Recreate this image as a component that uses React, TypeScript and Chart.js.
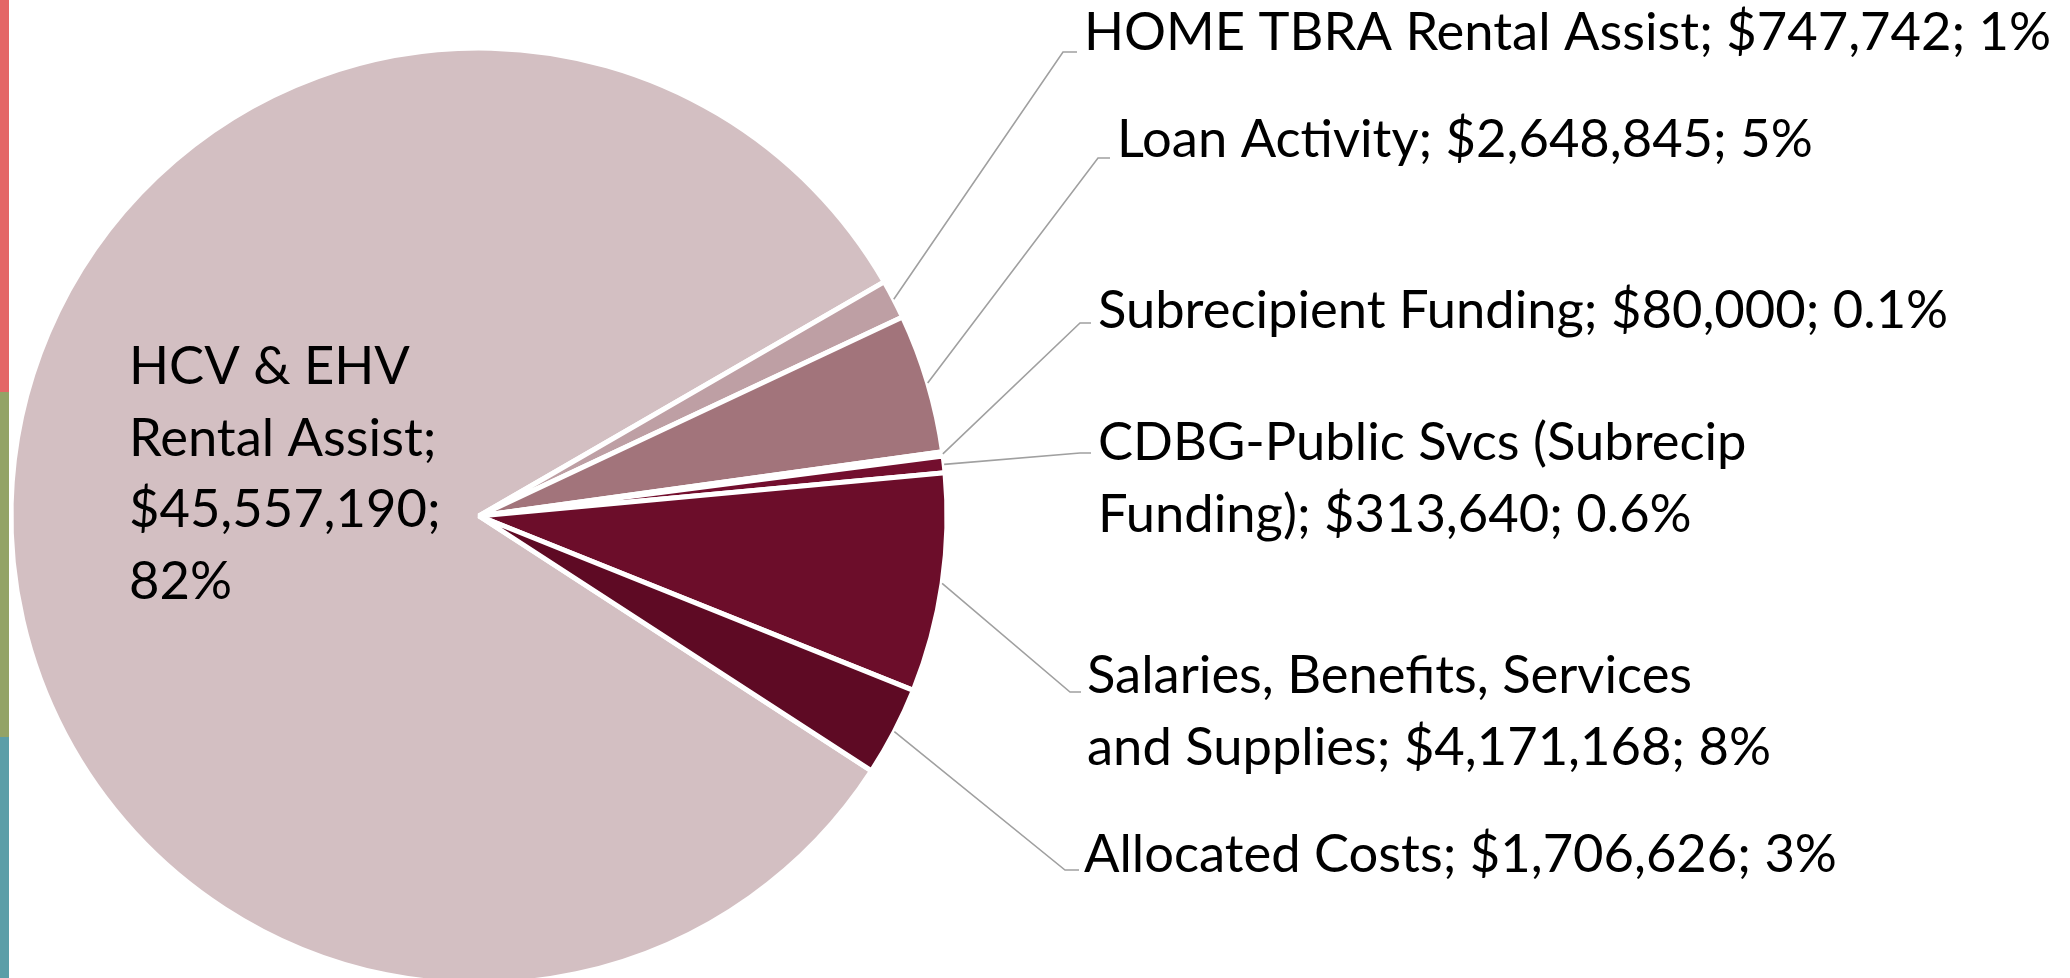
import React, { useEffect, useRef } from "react";
import { Chart, registerables } from "chart.js";

Chart.register(...registerables);

// ---------- data ----------
const categories: string[] = [
  "HCV & EHV Rental Assist",
  "HOME TBRA Rental Assist",
  "Loan Activity",
  "Subrecipient Funding",
  "CDBG-Public Svcs (Subrecip Funding)",
  "Salaries, Benefits, Services and Supplies",
  "Allocated Costs",
];
const amounts: number[] = [45557190, 747742, 2648845, 80000, 313640, 4171168, 1706626];
const percentLabels: string[] = ["82%", "1%", "5%", "0.1%", "0.6%", "8%", "3%"];
// words per line for wrapped labels (empty = single line)
const lineWordCounts: number[][] = [[3, 2, 1, 1], [], [], [], [3, 3], [3, 4], []];

// ---------- style ----------
const sliceColors = ["#D3BFC2", "#BE9FA4", "#A2747B", "#8A2A45", "#730F2E", "#6C0D2A", "#5E0A24"];
const FONT = "52.5px Lato";
const LINE_H = 71.5;
// text anchor (left x, first baseline y) and leader elbow / end points
const labelLayout = [
  { tx: 129, ty: 384 },
  { tx: 1084, ty: 50, ex: 1063, ey: 52, hx: 1077 },
  { tx: 1117, ty: 157, ex: 1098, ey: 158, hx: 1110 },
  { tx: 1098, ty: 328, ex: 1080, ey: 323, hx: 1091 },
  { tx: 1098, ty: 460, ex: 1080, ey: 453, hx: 1091 },
  { tx: 1087, ty: 693, ex: 1070, ey: 692, hx: 1081 },
  { tx: 1084, ty: 872, ex: 1065, ey: 870, hx: 1079 },
];

const fmt = (v: number) => "$" + v.toLocaleString("en-US");

function buildLines(i: number): string[] {
  const full = `${categories[i]}; ${fmt(amounts[i])}; ${percentLabels[i]}`;
  const counts = lineWordCounts[i];
  if (!counts.length) return [full];
  const words = full.split(" ");
  const out: string[] = [];
  let k = 0;
  for (const c of counts) {
    out.push(words.slice(k, k + c).join(" "));
    k += c;
  }
  if (k < words.length) out[out.length - 1] += " " + words.slice(k).join(" ");
  return out;
}

const labelPlugin = {
  id: "outerLabels",
  afterDatasetsDraw(chart: any) {
    const ctx = chart.ctx as CanvasRenderingContext2D;
    const meta = chart.getDatasetMeta(0);
    ctx.save();
    meta.data.forEach((arc: any, i: number) => {
      const L = labelLayout[i];
      if (i > 0 && L.ex !== undefined) {
        const { x, y, startAngle, endAngle, outerRadius } = arc.getProps(
          ["x", "y", "startAngle", "endAngle", "outerRadius"],
          true
        );
        const mid = (startAngle + endAngle) / 2;
        const sx = x + Math.cos(mid) * outerRadius;
        const sy = y + Math.sin(mid) * outerRadius;
        ctx.beginPath();
        ctx.strokeStyle = "#A0A0A0";
        ctx.lineWidth = 1.6;
        ctx.moveTo(sx, sy);
        ctx.lineTo(L.ex, L.ey);
        ctx.lineTo(L.hx, L.ey);
        ctx.stroke();
      }
      ctx.fillStyle = "#000000";
      ctx.font = FONT;
      ctx.textAlign = "left";
      ctx.textBaseline = "alphabetic";
      buildLines(i).forEach((line, j) => {
        ctx.fillText(line, L.tx, L.ty + j * LINE_H);
      });
    });
    ctx.restore();
  },
};

export default function App() {
  const ref = useRef<HTMLCanvasElement | null>(null);
  useEffect(() => {
    if (!ref.current) return;
    const chart = new Chart(ref.current, {
      type: "pie",
      data: {
        labels: categories,
        datasets: [
          {
            data: amounts,
            backgroundColor: sliceColors,
            borderColor: "#FFFFFF",
            borderWidth: 5,
            radius: 468,
          } as any,
        ],
      },
      options: {
        responsive: false,
        animation: false,
        rotation: 123,
        layout: { padding: { left: 0, top: 0, right: 1112, bottom: 0 } },
        plugins: { legend: { display: false }, tooltip: { enabled: false } },
      },
      plugins: [labelPlugin],
    });
    return () => chart.destroy();
  }, []);

  return (
    <div
      style={{
        position: "fixed",
        left: 0,
        top: 0,
        width: 2070,
        height: 978,
        overflow: "hidden",
        background: "#FFFFFF",
      }}
    >
      <canvas ref={ref} width={2070} height={1032} style={{ position: "absolute", left: 0, top: 0, width: 2070, height: 1032 }} />
      <div style={{ position: "absolute", left: 0, top: 0, width: 9, height: 392, background: "#E46666" }} />
      <div style={{ position: "absolute", left: 0, top: 392, width: 9, height: 345, background: "#93A366" }} />
      <div style={{ position: "absolute", left: 0, top: 737, width: 9, height: 241, background: "#5B9EA8" }} />
    </div>
  );
}
